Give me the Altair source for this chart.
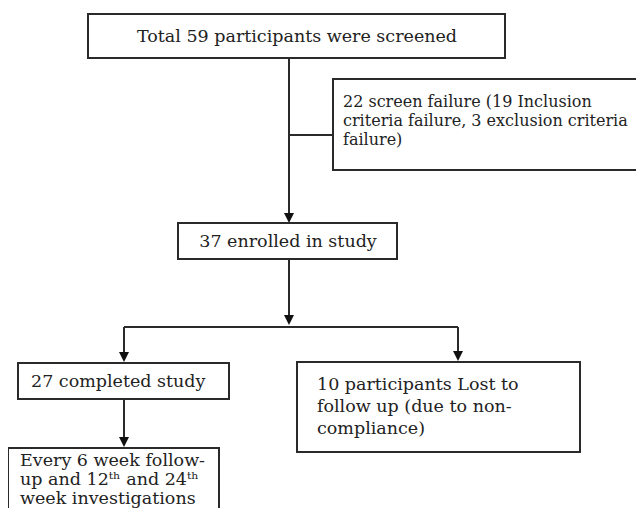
import altair as alt
import pandas as pd

# ---- content ----
box_labels = [
    "Total 59 participants were screened",
    "22 screen failure (19 Inclusion\ncriteria failure, 3 exclusion criteria\nfailure)",
    "37 enrolled in study",
    "27 completed study",
    "Every 6 week follow-\nup and 12ᵗʰ and 24ᵗʰ\nweek investigations",
    "10 participants Lost to\nfollow up (due to non-\ncompliance)",
]

# ---- layout (pixel space of the 644x516 picture) ----
box_x1 = [88, 333, 178, 18, 8, 297]
box_x2 = [505, 680, 397, 229, 219, 580]
box_y1 = [14, 79, 223, 363, 448, 362]
box_y2 = [58, 170, 259, 399, 560, 452]
text_x = [297, 343, 288, 31, 20, 317]
text_y = [37, 102, 242, 382, 461, 385]
text_align = ["center", "left", "center", "left", "left", "left"]
line_h = [19, 19, 19, 19, 19, 22]
font_px = [17.5, 16, 17.5, 17.5, 17.5, 17.5]

seg_x1 = [289, 289, 289, 124, 124, 458, 124]
seg_y1 = [58, 135, 259, 327, 327, 327, 399]
seg_x2 = [289, 333, 289, 458, 124, 458, 124]
seg_y2 = [220, 135, 322, 327, 358, 358, 444]

tip_x = [289, 289, 124, 458, 124]
tip_y = [223, 325, 362, 361, 447]

FONT = "DejaVu Serif"
INK = "#2a2a2a"

boxes = pd.DataFrame({"x": box_x1, "x2": box_x2, "y": box_y1, "y2": box_y2})
segs = pd.DataFrame({"x": seg_x1, "x2": seg_x2, "y": seg_y1, "y2": seg_y2})
tips = pd.DataFrame({"x": tip_x, "y": tip_y})

rows = []
for i, lab in enumerate(box_labels):
    for j, line in enumerate(lab.split("\n")):
        rows.append({"t": line, "x": text_x[i], "y": text_y[i] + j * line_h[i],
                     "align": text_align[i], "fs": font_px[i]})
lines = pd.DataFrame(rows)

xs = alt.Scale(domain=[8, 636], zero=False, nice=False)
ys = alt.Scale(domain=[8, 508], zero=False, nice=False, reverse=True)
X = lambda f: alt.X(f, type="quantitative", scale=xs, axis=None)
Y = lambda f: alt.Y(f, type="quantitative", scale=ys, axis=None)

rects = alt.Chart(boxes).mark_rect(fill="white", stroke=INK, strokeWidth=2).encode(
    x=X("x"), x2="x2", y=Y("y"), y2="y2")

rules = alt.Chart(segs).mark_rule(color=INK, strokeWidth=2).encode(
    x=X("x"), x2="x2", y=Y("y"), y2="y2")

arrows = alt.Chart(tips).mark_point(
    shape="M-0.5,-1L0.5,-1L0,0Z", size=400, filled=True, fill="#111",
    strokeWidth=0, opacity=1).encode(x=X("x"), y=Y("y"))

txt_c = alt.Chart(lines[lines["align"] == "center"]).mark_text(
    font=FONT, align="center", baseline="middle", color="#222").encode(
    x=X("x"), y=Y("y"), text="t:N", size=alt.Size("fs:Q", scale=None))
txt_l = alt.Chart(lines[lines["align"] == "left"]).mark_text(
    font=FONT, align="left", baseline="middle", color="#222").encode(
    x=X("x"), y=Y("y"), text="t:N", size=alt.Size("fs:Q", scale=None))

chart = alt.layer(rules, rects, arrows, txt_c, txt_l).properties(
    width=628, height=500, padding=0,
    autosize=alt.AutoSizeParams(type="none"),
    background="white",
).configure_view(stroke=None)

chart.save("out.html", embed_options={"renderer": "svg", "actions": False})
